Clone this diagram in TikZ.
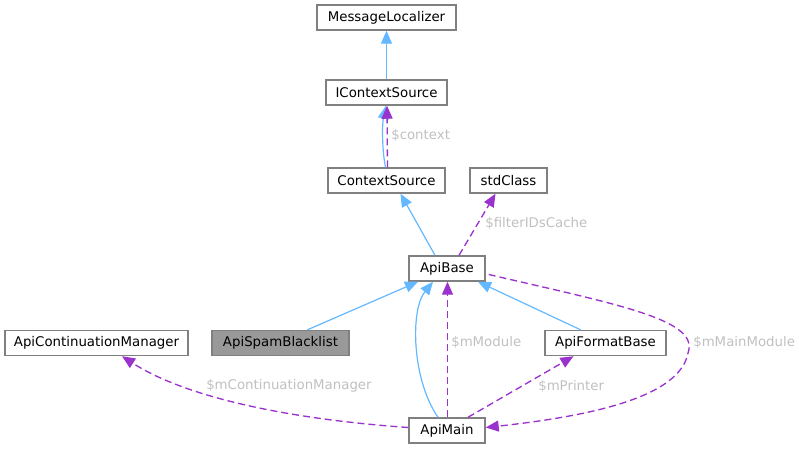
\documentclass[tikz,border=0pt]{standalone}
\usepackage{fontspec}
\setmainfont{DejaVu Sans}
\usetikzlibrary{arrows.meta,calc}
\definecolor{boxline}{HTML}{808080}
\definecolor{inh}{HTML}{63B8FF}
\definecolor{usage}{HTML}{9A32CD}
\definecolor{lbl}{HTML}{C0C0C0}
\definecolor{cur}{HTML}{999999}
\tikzset{
  cls/.style={draw=boxline, line width=1.1pt, fill=white, minimum height=18.75pt, inner sep=0pt, font=\fontsize{10}{12}\selectfont},
  curcls/.style={cls, fill=cur},
  inhedge/.style={draw=inh, line width=0.9pt, -{Triangle[length=9.75pt,width=8.25pt]}},
  useedge/.style={draw=usage, line width=1pt, dash pattern=on 5.25pt off 3pt, -{Triangle[length=9.75pt,width=8.25pt]}},
  elabel/.style={text=lbl, anchor=west, inner sep=0pt, font=\fontsize{10}{12}\selectfont}
}
\begin{document}
\begin{tikzpicture}[x=0.75pt,y=-0.75pt]
\useasboundingbox (0,0) rectangle (799,449);
% nodes
\node[cls, minimum width={139*0.75pt}] (ml) at (386.5,17.5) {MessageLocalizer};
\node[cls, minimum width={121*0.75pt}] (ics) at (386.5,92.5) {IContextSource};
\node[cls, minimum width={117*0.75pt}] (cs) at (386.5,180.5) {ContextSource};
\node[cls, minimum width={77*0.75pt}] (std) at (508.5,180.5) {stdClass};
\node[cls, minimum width={76*0.75pt}] (ab) at (447,268.5) {ApiBase};
\node[cls, minimum width={183*0.75pt}] (acm) at (96.5,343) {ApiContinuationManager};
\node[curcls, minimum width={137*0.75pt}] (asb) at (280.5,343) {ApiSpamBlacklist};
\node[cls, minimum width={121*0.75pt}] (afb) at (605.5,343) {ApiFormatBase};
\node[cls, minimum width={76*0.75pt}] (am) at (447,430.5) {ApiMain};
% edges
\draw[inhedge] (ics.north) -- (ml.south);
\draw[inhedge] ($(cs.north)+(-1,0)$) .. controls (382,150) and (382,125) .. ($(ics.south)+(-0.5,0)$);
\draw[useedge] ($(cs.north)+(1,0)$) -- ($(ics.south)+(0.5,0)$);
\node[elabel] (lctx) at (391,135) {\$context};
\draw[inhedge] ($(ab.north)+(-12,0)$) -- ($(cs.south)+(14,0)$);
\draw[useedge] ($(ab.north)+(12,0)$) -- ($(std.south)+(-13,0)$);
\node[elabel] (lfilt) at (485,223) {\$filterIDsCache};
\draw[inhedge] ($(asb.north)+(27,0)$) -- ($(ab.south)+(-29,0)$);
\draw[inhedge] ($(am.north)+(-9,0)$) .. controls (412,380) and (410,310) .. ($(ab.south)+(-14,0)$);
\draw[useedge] ($(am.north)+(0.5,0)$) -- ($(ab.south)+(0.5,0)$);
\node[elabel] (lmod) at (451,342) {\$mModule};
\draw[inhedge] ($(afb.north)+(-25,0)$) -- ($(ab.south)+(31,0)$);
\draw[useedge] ($(am.north)+(21,0)$) -- ($(afb.south)+(-32,0)$);
\node[elabel] (lprn) at (538,386) {\$mPrinter};
\draw[useedge] ($(ab.east)+(3,6)$) .. controls (620,305) and (700,320) .. (688,353) .. controls (680,395) and (600,415) .. ($(am.east)+(0,-3)$);
\node[elabel] (lmain) at (693,342) {\$mMainModule};
\draw[useedge] ($(am.west)+(0,-3)$) .. controls (300,420) and (190,400) .. ($(acm.south)+(25.5,0)$);
\node[elabel] (lcont) at (206,386) {\$mContinuationManager};
\end{tikzpicture}
\end{document}
